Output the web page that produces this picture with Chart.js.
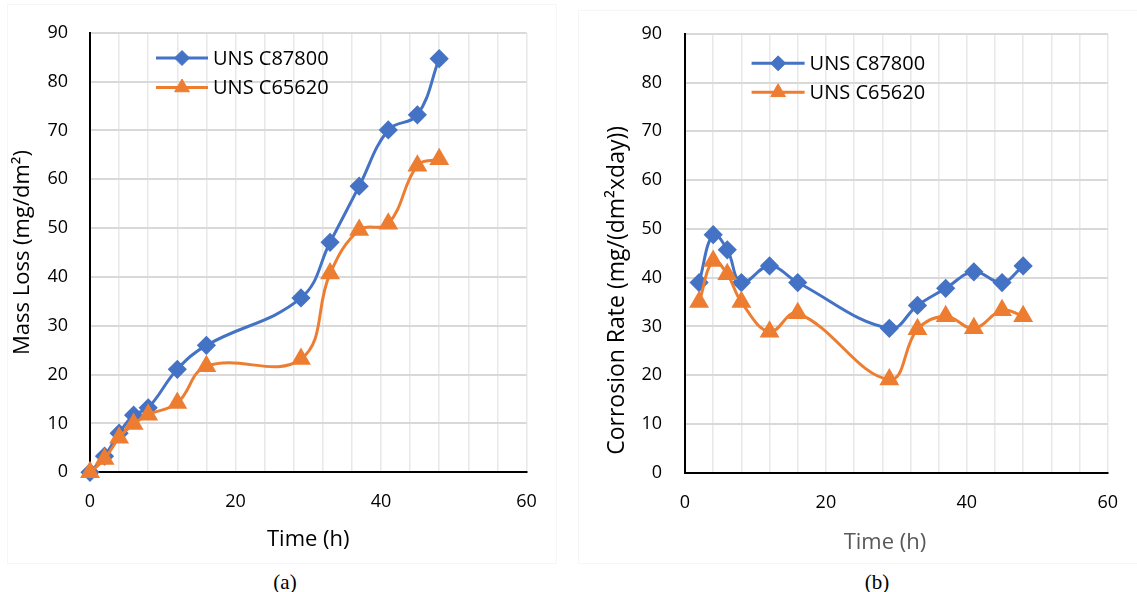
<!DOCTYPE html>
<html>
<head>
<meta charset="utf-8">
<script src="https://cdn.jsdelivr.net/npm/chart.js@4"></script>
<style>
  body { margin: 0; background: #fff; width: 1137px; height: 592px; position: relative; overflow: hidden; }
  .box { position: absolute; }
  #boxA { left: 0; top: 0; width: 560px; height: 560px; }
  #boxB { left: 570px; top: 0; width: 567px; height: 560px; }
  .frame { position: absolute; border: 1px solid #f6f6f6; }
  .cap { position: absolute; top: 570px; font-family: "Liberation Serif", serif; font-size: 21px; color: #000; transform: translateX(-50%); }
</style>
</head>
<body>
<div class="frame" style="left:7px; top:4px; width:548px; height:558px;"></div>
<div class="frame" style="left:578px; top:10px; width:570px; height:552px;"></div>
<div class="box" id="boxA"><canvas id="chartA" width="560" height="560"></canvas></div>
<div class="box" id="boxB"><canvas id="chartB" width="567" height="560"></canvas></div>
<div class="cap" style="left:285px;">(a)</div>
<div class="cap" style="left:877px;">(b)</div>
<script>
// data
var seriesNames = ["UNS C87800", "UNS C65620"];
var timeA = [0, 2, 4, 6, 8, 12, 16, 29, 33, 37, 41, 45, 48];
var massLossC87800 = [0, 3.3, 8.0, 11.7, 13.2, 21.1, 26.0, 35.7, 47.1, 58.6, 70.1, 73.2, 84.7];
var massLossC65620 = [0, 2.7, 7.1, 9.9, 11.8, 14.2, 21.7, 23.2, 40.7, 49.6, 50.9, 62.8, 64.1];

var timeB = [2, 4, 6, 8, 12, 16, 29, 33, 37, 41, 45, 48];
var rateC87800 = [39.0, 48.8, 45.7, 39.0, 42.4, 39.0, 29.6, 34.3, 37.8, 41.2, 39.0, 42.4];
var rateC65620 = [35.0, 43.4, 40.7, 35.0, 28.9, 32.7, 19.1, 29.4, 32.1, 29.6, 33.3, 32.1];

var xTickLabels = [0, 20, 40, 60];

var BLUE = '#4472C4';
var ORANGE = '#ED7D31';
var FONT = '"Open Sans", sans-serif';
var NB = '\u00a0';

function pts(xs, ys) {
  return xs.map(function (x, i) { return { x: x, y: ys[i] }; });
}

// legend drawn inside the plot area, like the excel one
var insideLegend = {
  id: 'insideLegend',
  afterDraw: function (chart, args, opts) {
    var ctx = chart.ctx;
    ctx.save();
    chart.data.datasets.forEach(function (ds, i) {
      var y = opts.y + i * opts.rowGap;
      ctx.strokeStyle = ds.borderColor;
      ctx.lineWidth = ds.borderWidth;
      ctx.beginPath();
      ctx.moveTo(opts.x, y);
      ctx.lineTo(opts.x + opts.lineLength, y);
      ctx.stroke();
      ctx.fillStyle = ds.pointBackgroundColor;
      ctx.strokeStyle = ds.pointBorderColor;
      ctx.lineWidth = 1;
      Chart.helpers.drawPoint(ctx, { pointStyle: ds.pointStyle, radius: ds.pointRadius, rotation: 0, borderWidth: 1 },
        opts.x + opts.lineLength / 2, y);
      ctx.fillStyle = '#000';
      ctx.font = opts.fontSize + 'px ' + FONT;
      ctx.textBaseline = 'middle';
      ctx.fillText(ds.label, opts.x + opts.lineLength + 5, y + 1);
    });
    ctx.restore();
  }
};

function makeDatasets(xs, blueVals, orangeVals) {
  return [{
    label: seriesNames[0],
    data: pts(xs, blueVals),
    borderColor: BLUE, backgroundColor: BLUE,
    pointBackgroundColor: BLUE, pointBorderColor: BLUE,
    borderWidth: 3, pointStyle: 'rectRot', pointRadius: 7.5,
    tension: 0.4, clip: false, order: 1
  }, {
    label: seriesNames[1],
    data: pts(xs, orangeVals),
    borderColor: ORANGE, backgroundColor: ORANGE,
    pointBackgroundColor: ORANGE, pointBorderColor: ORANGE,
    borderWidth: 3, pointStyle: 'triangle', pointRadius: 8.5,
    tension: 0.4, clip: false, order: 0
  }];
}

function makeChart(id, cfg) {
  return new Chart(document.getElementById(id), {
    type: 'line',
    data: { datasets: makeDatasets(cfg.xs, cfg.blue, cfg.orange) },
    options: {
      responsive: false,
      animation: false,
      layout: { padding: cfg.pad },
      plugins: {
        legend: { display: false },
        tooltip: { enabled: false },
        insideLegend: cfg.legend
      },
      scales: {
        x: {
          type: 'linear', min: 0, max: 60,
          afterFit: function (s) { s.height = cfg.xHeight; },
          border: { color: '#000', width: 2 },
          grid: { color: '#e8e8e8', lineWidth: 1.5, drawTicks: false },
          ticks: {
            stepSize: 4, padding: cfg.xTickPad, color: '#000', maxRotation: 0, autoSkip: false,
            font: { family: FONT, size: 18 },
            callback: function (v) { return xTickLabels.indexOf(v) >= 0 ? String(v) : ''; }
          },
          title: {
            display: true, text: cfg.xTitle, color: cfg.xTitleColor,
            font: { family: FONT, size: 22 }, padding: { top: 0, bottom: cfg.xTitlePad }
          }
        },
        y: {
          min: 0, max: 90,
          afterFit: function (s) { s.width = cfg.yWidth; },
          border: { color: '#000', width: 2 },
          grid: { color: '#d9d9d9', lineWidth: 2, drawTicks: false },
          ticks: { stepSize: 10, padding: cfg.yTickPad, color: '#000', font: { family: FONT, size: 18 } },
          title: {
            display: true, text: cfg.yTitle, color: '#000', align: cfg.yTitleAlign,
            font: { family: FONT, size: cfg.yTitleSize }, padding: { top: cfg.yTitlePad, bottom: 0 }
          }
        }
      }
    },
    plugins: [insideLegend]
  });
}

makeChart('chartA', {
  xs: timeA, blue: massLossC87800, orange: massLossC65620,
  pad: { left: 0, top: 23, right: 33.5, bottom: 0 },
  xHeight: 87.7, yWidth: 90,
  xTickPad: 19, yTickPad: 22, xTitlePad: 7, yTitlePad: 10,
  xTitle: 'Time (h)', xTitleColor: '#000',
  yTitle: 'Mass Loss (mg/dm²)', yTitleSize: 22, yTitleAlign: 'center',
  legend: { x: 156, y: 58, rowGap: 29.5, lineLength: 52, fontSize: 20 }
});

makeChart('chartB', {
  xs: timeB, blue: rateC87800, orange: rateC65620,
  pad: { left: 0, top: 28.3, right: 16.6, bottom: 0 },
  xHeight: 87.3, yWidth: 115,
  xTickPad: 19, yTickPad: 23, xTitlePad: 4.5, yTitlePad: 34,
  xTitle: 'Time (h)' + NB + NB + NB + NB, xTitleColor: '#595959',
  yTitle: NB + NB + NB + 'Corrosion Rate (mg/(dm²xday))', yTitleSize: 23, yTitleAlign: 'start',
  legend: { x: 181.6, y: 63.3, rowGap: 29, lineLength: 53, fontSize: 20 }
});
</script>
</body>
</html>
